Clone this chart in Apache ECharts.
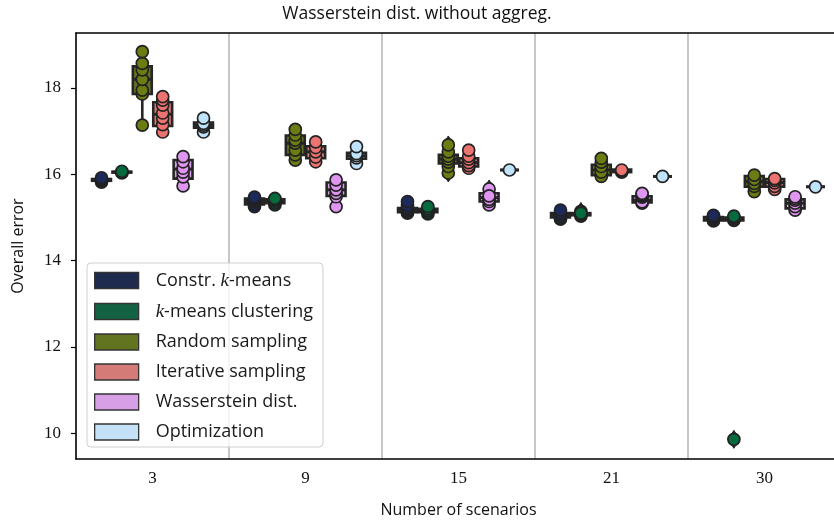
<!DOCTYPE html>
<html><head><meta charset="utf-8">
<script src="https://cdn.jsdelivr.net/npm/echarts@6/dist/echarts.min.js"></script>
<style>html,body{margin:0;padding:0;background:#fff}#c{width:834px;height:525px}</style>
</head><body><div id="c"></div>
<script>
const categories = ['3', '9', '15', '21', '30'];
const methodNames = ['Constr. k-means', 'k-means clustering', 'Random sampling', 'Iterative sampling', 'Wasserstein dist.', 'Optimization'];
const boxColors = ['#1e2a4e', '#136244', '#627420', '#d57b77', '#d7a0e6', '#c4e1f5'];
const pointColors = ['#1b2a5a', '#056b3e', '#6b7c12', '#ec7470', '#de96f0', '#bfe3fb'];
const yTicks = [10, 12, 14, 16, 18];

// box stats per category: [lower whisker, Q1, median, Q3, upper whisker]
const constrKmeansBox = [[15.82, 15.85, 15.87, 15.89, 15.92], [15.25, 15.30, 15.38, 15.44, 15.47], [15.10, 15.12, 15.16, 15.22, 15.37], [14.96, 15.00, 15.06, 15.10, 15.17], [14.92, 14.93, 14.97, 15.01, 15.05]];
const constrKmeansPoints = [[15.82, 15.86, 15.88, 15.92], [15.25, 15.30, 15.36, 15.40, 15.44, 15.47], [15.10, 15.14, 15.18, 15.22, 15.28, 15.37], [14.96, 15.00, 15.05, 15.10, 15.17], [14.92, 14.95, 14.98, 15.02, 15.05]];
const constrKmeansFliers = [[], [], [], [], []];

const kmeansBox = [[16.03, 16.04, 16.05, 16.06, 16.07], [15.29, 15.33, 15.38, 15.42, 15.44], [15.08, 15.12, 15.15, 15.20, 15.25], [15.03, 15.05, 15.08, 15.10, 15.10], [14.92, 14.93, 14.96, 15.00, 15.03]];
const kmeansPoints = [[16.03, 16.05, 16.07], [15.29, 15.33, 15.38, 15.42, 15.44], [15.08, 15.12, 15.16, 15.20, 15.25], [15.14, 15.03, 15.06, 15.08, 15.10], [9.86, 14.93, 14.96, 15.00, 15.03]];
const kmeansFliers = [[], [], [], [15.14], [9.86]];

const randomBox = [[17.14, 17.86, 18.20, 18.50, 18.84], [16.33, 16.45, 16.72, 16.90, 17.04], [16.18, 16.25, 16.35, 16.45, 16.52], [15.95, 15.98, 16.10, 16.22, 16.37], [15.60, 15.71, 15.83, 15.96, 15.98]];
const randomPoints = [[17.14, 17.86, 17.95, 18.20, 18.42, 18.57, 18.84], [16.33, 16.45, 16.56, 16.72, 16.79, 16.91, 17.04], [16.03, 16.18, 16.28, 16.35, 16.42, 16.52, 16.68], [15.95, 16.05, 16.18, 16.28, 16.37], [15.60, 15.72, 15.79, 15.88, 15.98]];
const randomFliers = [[], [], [16.03, 16.68], [], []];

const iterativeBox = [[16.98, 17.12, 17.39, 17.67, 17.80], [16.29, 16.37, 16.52, 16.65, 16.75], [16.14, 16.18, 16.27, 16.37, 16.56], [16.04, 16.05, 16.08, 16.11, 16.12], [15.65, 15.71, 15.81, 15.89, 15.90]];
const iterativePoints = [[16.98, 17.15, 17.30, 17.42, 17.60, 17.72, 17.80], [16.29, 16.40, 16.52, 16.62, 16.75], [16.14, 16.20, 16.27, 16.35, 16.42, 16.56], [16.05, 16.08, 16.10], [15.65, 15.72, 15.80, 15.86, 15.90]];
const iterativeFliers = [[], [], [], [], []];

const wassersteinBox = [[15.73, 15.90, 16.12, 16.33, 16.41], [15.25, 15.50, 15.64, 15.81, 15.87], [15.29, 15.37, 15.46, 15.56, 15.56], [15.33, 15.35, 15.40, 15.49, 15.56], [15.17, 15.21, 15.33, 15.42, 15.48]];
const wassersteinPoints = [[15.73, 15.94, 16.05, 16.14, 16.29, 16.41], [15.25, 15.48, 15.56, 15.64, 15.75, 15.87], [15.66, 15.29, 15.37, 15.42, 15.50], [15.33, 15.36, 15.47, 15.50, 15.53, 15.56], [15.17, 15.25, 15.33, 15.40, 15.44, 15.48]];
const wassersteinFliers = [[], [], [15.66], [], []];

const optimizationBox = [[16.98, 17.08, 17.14, 17.20, 17.30], [16.25, 16.36, 16.43, 16.50, 16.64], [16.10, 16.10, 16.10, 16.10, 16.10], [15.95, 15.95, 15.95, 15.95, 15.95], [15.71, 15.71, 15.71, 15.71, 15.71]];
const optimizationPoints = [[16.98, 17.10, 17.14, 17.18, 17.30], [16.25, 16.38, 16.43, 16.48, 16.64], [16.10], [15.95], [15.71]];
const optimizationFliers = [[], [], [], [], []];

const allBoxes = [constrKmeansBox, kmeansBox, randomBox, iterativeBox, wassersteinBox, optimizationBox];
const allPoints = [constrKmeansPoints, kmeansPoints, randomPoints, iterativePoints, wassersteinPoints, optimizationPoints];
const allFliers = [constrKmeansFliers, kmeansFliers, randomFliers, iterativeFliers, wassersteinFliers, optimizationFliers];

const N = methodNames.length;
const LINE = '#262626';
const LW = 2.6;
const serif = '"Liberation Serif", "DejaVu Serif", serif';
const sans = '"Open Sans", "Noto Sans", sans-serif';

function place(api, m, cat) {
  const band = api.size([1, 0])[0];
  const w = band * 0.8 / N;
  const cx = api.coord([cat, 0])[0] + (m - (N - 1) / 2) * w;
  return { cx, w };
}

const series = [];
for (let m = 0; m < N; m++) {
  series.push({
    type: 'custom', name: methodNames[m], z: 2,
    itemStyle: { color: boxColors[m] },
    data: allBoxes[m].map((b, i) => [i].concat(b)),
    encode: { x: 0, y: [1, 2, 3, 4, 5] },
    renderItem: function (params, api) {
      const cat = api.value(0);
      const { cx, w } = place(api, m, cat);
      const yy = k => api.coord([cat, api.value(k)])[1];
      const lo = yy(1), q1 = yy(2), md = yy(3), q3 = yy(4), hi = yy(5);
      const ls = { stroke: LINE, lineWidth: LW };
      const bw = w - 1.5;
      return {
        type: 'group', children: [
          { type: 'line', shape: { x1: cx, y1: q1, x2: cx, y2: lo }, style: ls },
          { type: 'line', shape: { x1: cx, y1: q3, x2: cx, y2: hi }, style: ls },
          { type: 'line', shape: { x1: cx - bw / 4, y1: lo, x2: cx + bw / 4, y2: lo }, style: ls },
          { type: 'line', shape: { x1: cx - bw / 4, y1: hi, x2: cx + bw / 4, y2: hi }, style: ls },
          { type: 'rect', shape: { x: cx - bw / 2, y: q3, width: bw, height: q1 - q3 }, style: { fill: boxColors[m], stroke: LINE, lineWidth: LW } },
          { type: 'line', shape: { x1: cx - bw / 2, y1: md, x2: cx + bw / 2, y2: md }, style: { stroke: LINE, lineWidth: LW + 0.4 } }
        ]
      };
    }
  });
  const fl = [];
  allFliers[m].forEach((arr, i) => arr.forEach(v => fl.push([i, v])));
  series.push({
    type: 'custom', name: methodNames[m], z: 2,
    data: fl, encode: { x: 0, y: 1 },
    renderItem: function (params, api) {
      const cat = api.value(0);
      const { cx } = place(api, m, cat);
      const y = api.coord([cat, api.value(1)])[1];
      return { type: 'polygon', shape: { points: [[cx, y - 9], [cx + 5.5, y], [cx, y + 9], [cx - 5.5, y]] }, style: { fill: LINE, stroke: LINE, lineWidth: 1 } };
    }
  });
  const pts = [];
  allPoints[m].forEach((arr, i) => arr.forEach(v => pts.push([i, v])));
  series.push({
    type: 'custom', name: methodNames[m], z: 3,
    data: pts, encode: { x: 0, y: 1 },
    renderItem: function (params, api) {
      const cat = api.value(0);
      const { cx } = place(api, m, cat);
      const y = api.coord([cat, api.value(1)])[1];
      return { type: 'circle', shape: { cx: cx, cy: y, r: 6 }, style: { fill: pointColors[m], stroke: '#222', lineWidth: 1.7 } };
    }
  });
}

const legendFormatter = function (name) {
  if (name === 'Constr. k-means') return '{s|}{n|Constr. }{i|k}{n|-means}';
  if (name === 'k-means clustering') return '{s|}{i|k}{n|-means clustering}';
  return '{s|}{n|' + name + '}';
};

const chart = echarts.init(document.getElementById('c'));
chart.setOption({
  animation: false,
  backgroundColor: '#ffffff',
  title: { text: 'Wasserstein dist. without aggreg.', left: 'center', top: 0, textStyle: { fontFamily: sans, fontSize: 17.5, fontWeight: 'normal', color: '#111' } },
  grid: { left: 76, top: 33, width: 765, height: 426, show: false, outerBoundsMode: 'none', containLabel: false },
  legend: {
    orient: 'vertical', left: 87, top: 263,
    padding: [8, 10, 6, 7], itemGap: 12, itemWidth: 44, itemHeight: 16,
    backgroundColor: 'rgba(255,255,255,0.8)', borderColor: '#cfcfcf', borderWidth: 1, borderRadius: 4,
    data: methodNames.map((n, i) => ({ name: n, icon: 'rect', itemStyle: { color: boxColors[i], borderColor: '#333', borderWidth: 1.3 } })),
    formatter: legendFormatter,
    textStyle: {
      color: '#1a1a1a', fontFamily: sans, fontSize: 18,
      rich: {
        s: { width: 12 },
        n: { fontFamily: sans, fontSize: 18, color: '#1a1a1a', lineHeight: 18 },
        i: { fontFamily: serif, fontStyle: 'italic', fontSize: 19, color: '#1a1a1a', lineHeight: 18 }
      }
    }
  },
  xAxis: [{
    type: 'category', data: categories, boundaryGap: true,
    name: 'Number of scenarios', nameLocation: 'middle', nameGap: 43,
    nameTextStyle: { fontFamily: sans, fontSize: 16, color: '#111' },
    axisLine: { lineStyle: { color: '#000', width: 1.5 } },
    axisTick: { alignWithLabel: true, length: 5, lineStyle: { color: '#000', width: 1.2 } },
    axisLabel: { fontFamily: serif, fontSize: 17, color: '#111', margin: 11 },
    splitLine: { show: true, lineStyle: { color: '#b5b5b5', width: 1.5 } }
  }, {
    type: 'category', data: categories, position: 'top',
    axisLine: { show: true, lineStyle: { color: '#000', width: 1.5 } },
    axisTick: { show: false }, axisLabel: { show: false }, splitLine: { show: false }
  }],
  yAxis: {
    type: 'value', min: 9.405, max: 19.273,
    name: 'Overall error', nameLocation: 'middle', nameGap: 50,
    nameTextStyle: { fontFamily: sans, fontSize: 16, color: '#111' },
    axisLine: { show: true, lineStyle: { color: '#000', width: 1.5 } },
    axisTick: { show: true, length: 5, customValues: yTicks, lineStyle: { color: '#000', width: 1.2 } },
    axisLabel: { fontFamily: serif, fontSize: 17, color: '#111', margin: 15, customValues: yTicks },
    splitLine: { show: false }
  },
  series: series
});
</script></body></html>
